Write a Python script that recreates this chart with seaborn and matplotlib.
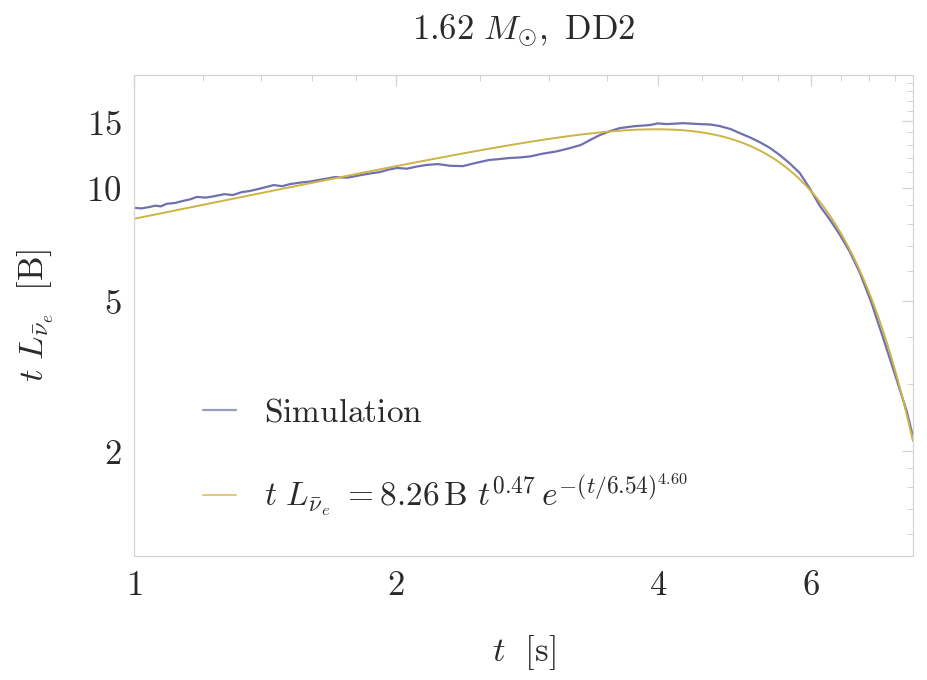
import numpy as np
import pandas as pd
import matplotlib
matplotlib.use("Agg")
import matplotlib.pyplot as plt
from matplotlib.ticker import FixedLocator, FixedFormatter, NullFormatter
import seaborn as sns

# Simulated anti-electron-neutrino luminosity times t (in B) versus time (s)
sim_t = [1.000, 1.020, 1.043, 1.058, 1.074, 1.090, 1.115, 1.140, 1.160, 1.181,
         1.210, 1.239, 1.270, 1.299, 1.330, 1.359, 1.400, 1.448, 1.480, 1.511,
         1.550, 1.593, 1.650, 1.702, 1.760, 1.823, 1.870, 1.917, 1.960, 2.005,
         2.060, 2.114, 2.170, 2.235, 2.310, 2.388, 2.470, 2.558, 2.630, 2.704,
         2.780, 2.851, 2.950, 3.054, 3.160, 3.263, 3.350, 3.431, 3.520, 3.617,
         3.760, 3.916, 4.000, 4.097, 4.280, 4.470, 4.600, 4.713, 4.850, 4.969,
         5.100, 5.239, 5.380, 5.524, 5.670, 5.824, 5.980, 6.140, 6.300, 6.474,
         6.650, 6.826, 7.040, 7.254, 7.490, 7.729, 7.853]
sim_L = [8.83, 8.80, 8.88, 8.95, 8.91, 9.05, 9.10, 9.22, 9.30, 9.44,
         9.40, 9.49, 9.60, 9.55, 9.72, 9.79, 9.95, 10.15, 10.08, 10.21,
         10.30, 10.37, 10.52, 10.66, 10.62, 10.79, 10.90, 10.99, 11.15, 11.27,
         11.22, 11.37, 11.48, 11.54, 11.42, 11.40, 11.62, 11.83, 11.90, 11.98,
         12.02, 12.09, 12.30, 12.46, 12.70, 12.97, 13.40, 13.78, 14.10, 14.38,
         14.55, 14.65, 14.80, 14.74, 14.82, 14.74, 14.70, 14.56, 14.30, 13.95,
         13.60, 13.20, 12.75, 12.20, 11.60, 10.93, 9.95, 8.95, 8.25, 7.50,
         6.75, 5.95, 4.95, 4.02, 3.20, 2.55, 2.20]

# Fit parameters: t L = A t^p exp(-(t/tau)^n)
fit_A, fit_p, fit_tau, fit_n = 8.26, 0.47, 6.54, 4.60

x_ticks = [1, 2, 4, 6]
x_minor = [1.2, 1.4, 1.6, 1.8, 2.5, 3, 3.5, 4.5, 5, 5.5, 6.5, 7, 7.5]
y_ticks = [2, 5, 10, 15]
y_minor = [1.2, 1.4, 1.6, 1.8, 3, 4, 6, 7, 8, 9, 11, 12, 13, 14, 16, 17, 18, 19]
x_lim = (1.0, 7.86)
y_lim = (1.05, 19.9)

sim_color = "#7070b0"
fit_color = "#cdb444"
frame_color = "#d4d4d4"
text_color = "#2a2a2a"

sns.set_theme(style="white")
plt.rcParams["mathtext.fontset"] = "cm"
plt.rcParams["font.family"] = ["DejaVu Serif"]

t_fit = np.geomspace(x_lim[0], x_lim[1], 400)
L_fit = fit_A * t_fit ** fit_p * np.exp(-(t_fit / fit_tau) ** fit_n)

df_sim = pd.DataFrame({"t": sim_t, "L": sim_L})
df_fit = pd.DataFrame({"t": t_fit, "L": L_fit})

fig = plt.figure(figsize=(9.28, 6.80), dpi=100)
ax = fig.add_axes([0.1444, 0.1824, 0.8394, 0.7073])

sns.lineplot(data=df_sim, x="t", y="L", ax=ax, color=sim_color, lw=1.6,
             estimator=None, sort=False,
             label=r"$\mathrm{Simulation}$")
sns.lineplot(data=df_fit, x="t", y="L", ax=ax, color=fit_color, lw=1.4,
             estimator=None, sort=False,
             label=r"$t\ L_{\bar{\nu}_e}\ = 8.26\,\mathrm{B}\ t^{0.47}\,e^{-(t/6.54)^{4.60}}$")

ax.set_xscale("log")
ax.set_yscale("log")
ax.set_xlim(*x_lim)
ax.set_ylim(*y_lim)

ax.xaxis.set_major_locator(FixedLocator(x_ticks))
ax.xaxis.set_major_formatter(FixedFormatter([f"${v}$" for v in x_ticks]))
ax.xaxis.set_minor_locator(FixedLocator(x_minor))
ax.xaxis.set_minor_formatter(NullFormatter())
ax.yaxis.set_major_locator(FixedLocator(y_ticks))
ax.yaxis.set_major_formatter(FixedFormatter([f"${v}$" for v in y_ticks]))
ax.yaxis.set_minor_locator(FixedLocator(y_minor))
ax.yaxis.set_minor_formatter(NullFormatter())

for s in ax.spines.values():
    s.set_color(frame_color)
    s.set_linewidth(0.9)

ax.tick_params(which="both", direction="in", top=True, right=True,
               color=frame_color, labelcolor=text_color)
ax.tick_params(which="major", length=8, width=0.9, labelsize=25, pad=9)
ax.tick_params(which="minor", length=4, width=0.7)

ax.set_xlabel(r"$t\ \ [\mathrm{s}]$", fontsize=25, color=text_color, labelpad=22)
ax.set_ylabel(r"$t\ L_{\bar{\nu}_e}\ \ [\mathrm{B}]$", fontsize=25, color=text_color, labelpad=22)
ax.set_title(r"$1.62\ M_{\odot},\ \mathrm{DD2}$", fontsize=25, color=text_color, pad=26)

leg = ax.legend(frameon=False, loc="lower left", bbox_to_anchor=(0.088, 0.078),
                fontsize=24, handlelength=1.0, handletextpad=0.85,
                labelspacing=1.3, borderpad=0, borderaxespad=0)
for txt in leg.get_texts():
    txt.set_color(text_color)
leg.get_lines()[0].set_color("#9a9cbc")
leg.get_lines()[1].set_color("#e2c870")

fig.savefig("out.png", dpi=100, facecolor="white")
